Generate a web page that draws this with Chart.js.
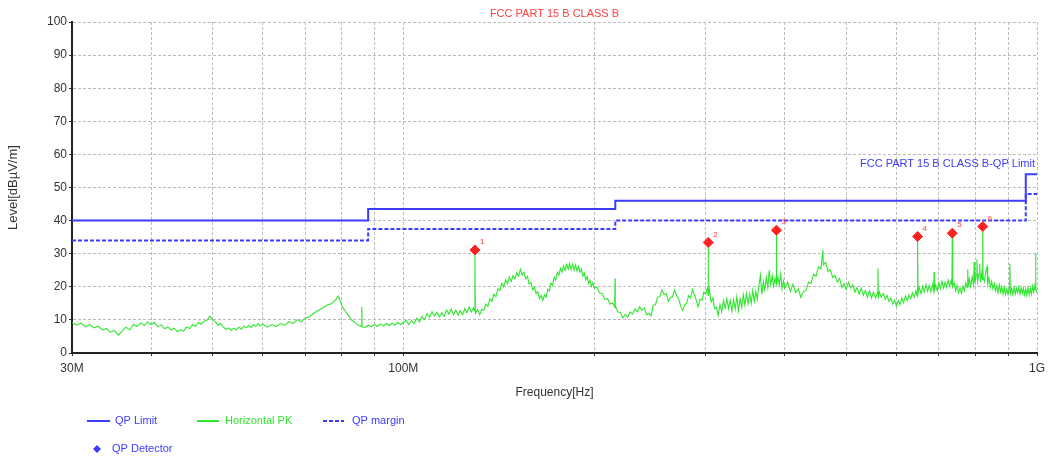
<!DOCTYPE html>
<html>
<head>
<meta charset="utf-8">
<script src="https://cdn.jsdelivr.net/npm/chart.js@4.4.1/dist/chart.umd.min.js"></script>
<style>
  html, body { margin: 0; padding: 0; background: #ffffff; }
  canvas { display: block; }
</style>
</head>
<body>
<canvas id="emi" width="1051" height="461"></canvas>
<script>
// ---- chart text ----
const chartTitle = 'FCC PART 15 B CLASS B';
const limitLabel = 'FCC PART 15 B CLASS B-QP Limit';
const xAxisTitle = 'Frequency[Hz]';
const yAxisTitle = 'Level[dBµV/m]';

// ---- frequency axis (MHz): grid positions and the few that carry labels ----
const gridFreqs = [30, 40, 50, 60, 70, 80, 90, 100, 200, 300, 400, 500, 600, 700, 800, 900, 1000];
const freqTickLabels = { 30: '30M', 100: '100M', 1000: '1G' };

// ---- QP limit and margin (step changes at these frequencies, MHz / dBµV/m) ----
const limitFreqs = [30, 88, 216, 960, 1000];
const qpLimit    = [40, 43.5, 46, 54, 54];
const qpMargin   = [34, 37.5, 40, 48, 48];

// ---- QP detector readings ----
const detectorIds    = ['1', '2', '3', '4', '5', '6'];
const detectorFreqs  = [129.7, 302.8, 388, 648, 735, 821];
const detectorLevels = [31.1, 33.4, 37.1, 35.2, 36.2, 38.2];

// ---- Horizontal PK sweep, 30 - 100 MHz ----
const sweepLowFreqs = [
  30, 30.5, 31, 31.5, 32, 32.5, 33, 33.5, 34, 34.5,
  35, 35.5, 36, 36.5, 37, 37.5, 38, 38.5, 39, 39.5,
  40, 40.5, 41, 41.5, 42, 42.5, 43, 43.5, 44, 44.5,
  45, 45.5, 46, 46.5, 47, 47.5, 48, 48.5, 49, 49.5,
  50, 50.5, 51, 51.5, 52, 52.5, 53, 53.5, 54, 54.5,
  55, 55.5, 56, 56.5, 57, 57.5, 58, 58.5, 59, 59.5,
  60, 61, 62, 63, 64, 65, 66, 67, 68, 69,
  70, 71, 72, 73, 74, 75, 76, 77, 78, 79,
  80, 81, 82, 83, 84, 85, 85.9, 86, 86.1, 87,
  88, 89, 90, 91, 92, 93, 94, 95, 96, 97,
  98, 99, 100
];
const sweepLowLevels = [
  9.2, 8.4, 9.0, 7.9, 8.6, 7.6, 8.1, 6.9, 7.4, 6.3,
  6.8, 5.4, 6.6, 7.8, 7.0, 8.6, 8.0, 9.1, 8.3, 9.4,
  8.6, 9.2, 7.9, 8.5, 7.3, 7.9, 6.9, 7.5, 6.4, 7.0,
  6.6, 7.9, 7.4, 8.6, 8.0, 9.2, 8.7, 9.6, 9.9, 11.2,
  10.0, 9.4, 8.4, 8.9, 7.8, 7.1, 7.6, 6.8, 7.5, 7.0,
  7.8, 7.2, 8.1, 7.6, 8.3, 7.7, 8.6, 8.0, 8.9, 8.2,
  8.7, 7.8, 8.6, 8.0, 8.9, 8.4, 9.5, 8.9, 10.1, 9.4,
  10.6, 10.9, 11.8, 12.6, 13.2, 13.9, 14.6, 14.9, 15.8, 17.2,
  14.3, 12.6, 11.2, 9.8, 9.1, 8.3, 8.0, 14.0, 7.9, 7.7,
  8.4, 7.9, 8.6, 8.0, 8.8, 8.2, 8.9, 8.3, 9.0, 8.4,
  9.2, 8.6, 9.3
];

// ---- Horizontal PK sweep, 100 - 200 MHz ----
const sweepMidFreqs = [
  101, 102, 103, 104, 105, 106, 107, 108, 109, 110,
  111, 112, 113, 114, 115, 116, 117, 118, 119, 120,
  121, 122, 123, 124, 125, 126, 127, 128, 129, 129.5,
  129.7, 129.9, 130, 131, 132, 133, 134, 135, 136, 137,
  138, 139, 140, 141, 142, 143, 144, 145, 146, 147,
  148, 149, 150, 151, 152, 153, 154, 155, 156, 157,
  158, 159, 160, 161, 162, 163, 164, 165, 166, 167,
  168, 169, 170, 171, 172, 173, 174, 175, 176, 177,
  178, 179, 180, 181, 182, 183, 184, 185, 186, 187,
  188, 189, 190, 191, 192, 193, 194, 195, 196, 197,
  198, 199, 200
];
const sweepMidLevels = [
  9.9, 8.6, 9.8, 8.9, 10.5, 9.4, 11.0, 10.1, 11.9, 10.8,
  12.5, 11.2, 12.3, 10.9, 12.2, 11.1, 13.0, 11.7, 13.3, 11.6,
  12.9, 11.4, 12.8, 11.6, 13.4, 12.1, 13.9, 12.4, 13.6, 12.8,
  31.1, 12.9, 12.0, 13.1, 11.6, 13.2, 12.9, 14.8, 14.1, 16.4,
  15.6, 17.8, 17.0, 19.4, 18.9, 21.0, 20.0, 22.1, 20.9, 22.9,
  21.6, 23.4, 22.4, 24.3, 23.2, 25.3, 23.6, 24.4, 22.4, 23.1,
  20.8, 21.3, 19.1, 19.9, 17.9, 18.6, 16.4, 17.4, 15.9, 17.6,
  16.8, 19.3, 18.8, 21.1, 20.4, 22.9, 22.0, 24.4, 23.5, 25.6,
  24.4, 26.3, 25.0, 26.8, 25.3, 27.0, 25.2, 26.9, 25.0, 26.6,
  24.8, 26.2, 24.4, 25.3, 23.2, 24.2, 22.1, 23.1, 21.0, 22.0,
  20.1, 21.2, 19.6
];

// ---- Horizontal PK sweep, 200 - 400 MHz ----
const sweepUpperFreqs = [
  202, 204, 206, 208, 210, 212, 214, 215.6, 215.8, 216,
  218, 220, 222, 224, 226, 228, 230, 232, 234, 236,
  238, 240, 242, 244, 246, 248, 250, 252, 254, 256,
  258, 260, 262, 264, 266, 268, 270, 272, 274, 276,
  278, 280, 282, 284, 286, 288, 290, 292, 294, 296,
  298, 300, 302, 302.6, 302.8, 303, 304, 306, 308, 310,
  312, 314, 316, 318, 320, 322, 324, 326, 328, 330,
  332, 334, 336, 338, 340, 342, 344, 346, 348, 350,
  352, 354, 356, 358, 360, 362, 364, 366, 368, 370,
  372, 374, 376, 378, 380, 382, 384, 386, 387.8, 388,
  388.2, 390, 392, 394, 396, 398, 400
];
const sweepUpperLevels = [
  19.9, 18.1, 18.0, 16.2, 16.4, 14.8, 15.1, 13.9, 22.5, 14.2,
  12.4, 12.3, 10.6, 11.7, 10.9, 12.4, 11.8, 13.3, 12.4, 14.0,
  12.9, 13.6, 11.6, 12.0, 11.2, 14.5, 14.6, 16.9, 17.0, 19.0,
  17.6, 17.9, 15.6, 16.8, 17.0, 19.1, 17.2, 16.4, 14.0, 12.8,
  14.6, 15.0, 17.4, 16.6, 19.2, 17.6, 15.8, 14.0, 16.3, 15.9,
  18.4, 17.8, 19.6, 17.8, 33.4, 17.2, 19.3, 15.4, 16.6, 13.4,
  13.8, 11.4, 14.6, 12.4, 15.8, 13.6, 16.4, 13.4, 15.9, 12.6,
  16.2, 13.3, 17.0, 12.8, 16.4, 13.8, 17.6, 14.4, 18.0, 14.9,
  17.9, 15.0, 19.0, 15.6, 18.6, 16.2, 20.4, 23.5, 17.8, 21.6,
  19.0, 22.8, 19.8, 25.0, 20.6, 23.4, 20.2, 22.6, 20.8, 37.1,
  20.6, 23.0, 20.6, 24.0, 19.4, 21.8, 19.6
];

// ---- Horizontal PK sweep, 400 MHz - 1 GHz ----
const sweepHighFreqs = [
  404, 408, 412, 416, 420, 424, 428, 432, 436, 440,
  444, 448, 452, 456, 459.3, 460, 464, 468, 472, 476,
  480, 484, 488, 492, 496, 500, 504, 508, 512, 516,
  520, 524, 528, 532, 536, 540, 544, 548, 552, 556,
  560, 561, 562, 564, 568, 572, 576, 580, 584, 588,
  592, 596, 600, 604, 608, 612, 616, 620, 624, 628,
  632, 636, 640, 644, 647, 648, 649, 652, 656, 660,
  664, 668, 672, 676, 680, 684, 687, 688, 689, 692,
  696, 700, 704, 708, 712, 716, 720, 724, 728, 732,
  734, 735, 736, 740, 744, 748, 752, 756, 760, 764,
  768, 772, 776, 777, 778, 779, 782, 786, 790, 794,
  796, 798, 802, 804, 806, 810, 812, 814, 818, 820,
  821, 822, 826, 830, 834, 836, 840, 844, 848, 852,
  856, 860, 864, 868, 872, 876, 880, 884, 888, 892,
  896, 900, 904, 906, 908, 912, 916, 920, 924, 928,
  932, 936, 940, 944, 948, 952, 956, 960, 964, 968,
  972, 976, 980, 984, 988, 992, 994, 995, 996, 1000
];
const sweepHighLevels = [
  21.4, 18.6, 20.8, 18.2, 19.4, 16.8, 18.6, 18.9, 21.4, 21.0,
  23.8, 23.2, 26.0, 25.4, 31.0, 26.6, 27.4, 24.6, 25.2, 22.8,
  23.4, 21.4, 22.6, 19.8, 21.0, 19.2, 21.4, 19.6, 20.6, 18.4,
  19.8, 17.8, 19.6, 17.4, 18.9, 16.8, 18.8, 16.6, 18.4, 16.6,
  18.0, 25.5, 17.0, 18.4, 16.8, 18.0, 16.2, 17.4, 15.6, 16.6,
  14.8, 15.9, 14.2, 15.8, 14.6, 16.6, 15.2, 17.2, 15.8, 17.6,
  16.4, 18.2, 16.8, 18.8, 17.2, 35.2, 18.0, 19.8, 18.0, 20.2,
  18.4, 20.6, 18.6, 20.4, 18.4, 20.8, 18.8, 24.5, 19.0, 20.6,
  18.8, 21.2, 19.4, 21.6, 19.6, 21.4, 19.8, 22.0, 20.2, 21.8,
  20.4, 36.2, 20.0, 21.2, 18.8, 20.4, 18.2, 19.6, 18.0, 20.2,
  18.8, 21.2, 19.8, 20.6, 25.2, 20.2, 22.4, 20.0, 23.0, 20.6,
  27.5, 21.2, 23.6, 28.3, 21.6, 24.0, 27.0, 21.4, 24.2, 22.2,
  38.2, 23.0, 21.6, 24.6, 26.0, 20.8, 22.6, 19.8, 21.6, 19.4,
  21.0, 18.8, 20.4, 18.2, 20.6, 18.4, 20.0, 17.8, 19.8, 17.6,
  19.4, 17.8, 19.6, 27.0, 18.0, 19.4, 17.6, 19.8, 17.8, 19.6,
  18.2, 20.0, 17.8, 19.8, 18.0, 19.6, 17.6, 19.4, 17.4, 19.8,
  17.6, 19.4, 17.8, 20.2, 18.4, 20.4, 19.2, 30.2, 19.6, 18.2
];

// ---- styling ----
const FONT = '"Liberation Sans", Arial, Helvetica, sans-serif';
const BLUE = '#3c3cff';
const GREEN = '#2fe62f';
const RED = '#ff2020';
const TEXT_RED = '#ff4040';
const AXIS_TEXT = '#333333';
const GRID = '#bcbcbc';

const toPoints = (xs, ys) => xs.map((x, i) => ({ x: x, y: ys[i] }));

const sweepPoints = [].concat(
  toPoints(sweepLowFreqs, sweepLowLevels),
  toPoints(sweepMidFreqs, sweepMidLevels),
  toPoints(sweepUpperFreqs, sweepUpperLevels),
  toPoints(sweepHighFreqs, sweepHighLevels)
);

// Captions, detector numbers and the legend are painted on top of the plot.
const annotations = {
  id: 'annotations',
  afterDatasetsDraw(chart) {
    const { ctx, chartArea, scales } = chart;
    ctx.save();

    ctx.font = '11px ' + FONT;
    ctx.textBaseline = 'middle';
    ctx.fillStyle = TEXT_RED;
    ctx.textAlign = 'center';
    ctx.fillText(chartTitle, (chartArea.left + chartArea.right) / 2, 14);

    ctx.fillStyle = BLUE;
    ctx.textAlign = 'right';
    ctx.fillText(limitLabel, chartArea.right - 2,
      scales.y.getPixelForValue(qpLimit[qpLimit.length - 1] + 3));

    // detector numbers
    const meta = chart.getDatasetMeta(0);
    ctx.font = '8px ' + FONT;
    ctx.fillStyle = TEXT_RED;
    ctx.textAlign = 'left';
    meta.data.forEach((pt, i) => {
      ctx.fillText(detectorIds[i], pt.x + 5, pt.y - 8);
    });

    // legend
    ctx.font = '11px ' + FONT;
    ctx.textAlign = 'left';
    const row1 = 421, row2 = 449;
    const sample = (x0, x1, y, color, dash) => {
      ctx.save();
      ctx.strokeStyle = color;
      ctx.lineWidth = 2;
      ctx.setLineDash(dash || []);
      ctx.beginPath();
      ctx.moveTo(x0, y);
      ctx.lineTo(x1, y);
      ctx.stroke();
      ctx.restore();
    };
    sample(87, 110, row1, BLUE);
    ctx.fillStyle = BLUE;
    ctx.fillText('QP Limit', 115, row1);
    sample(197, 219, row1, GREEN);
    ctx.fillStyle = GREEN;
    ctx.fillText('Horizontal PK', 225, row1);
    sample(323, 344, row1, BLUE, [4, 2]);
    ctx.fillStyle = BLUE;
    ctx.fillText('QP margin', 352, row1);

    ctx.fillStyle = BLUE;
    ctx.beginPath();
    ctx.moveTo(97, row2 - 4);
    ctx.lineTo(101, row2);
    ctx.lineTo(97, row2 + 4);
    ctx.lineTo(93, row2);
    ctx.closePath();
    ctx.fill();
    ctx.fillText('QP Detector', 112, row2);

    ctx.restore();
  }
};

new Chart(document.getElementById('emi'), {
  type: 'line',
  data: {
    datasets: [
      {
        label: 'QP Detector',
        data: toPoints(detectorFreqs, detectorLevels),
        showLine: false,
        pointStyle: 'rectRot',
        pointRadius: 5,
        pointBackgroundColor: RED,
        pointBorderColor: RED,
        pointBorderWidth: 1,
        order: 0
      },
      {
        label: 'QP Limit',
        data: toPoints(limitFreqs, qpLimit),
        stepped: 'before',
        borderColor: BLUE,
        borderWidth: 2,
        pointRadius: 0,
        fill: false,
        order: 1
      },
      {
        label: 'QP margin',
        data: toPoints(limitFreqs, qpMargin),
        stepped: 'before',
        borderColor: BLUE,
        borderWidth: 2,
        borderDash: [4, 2],
        pointRadius: 0,
        fill: false,
        order: 2
      },
      {
        label: 'Horizontal PK',
        data: sweepPoints,
        borderColor: GREEN,
        borderWidth: 1.1,
        pointRadius: 0,
        tension: 0,
        fill: false,
        order: 3
      }
    ]
  },
  options: {
    responsive: false,
    animation: false,
    events: [],
    layout: { padding: { left: 0, right: 14, top: 22, bottom: 60 } },
    plugins: {
      legend: { display: false },
      tooltip: { enabled: false },
      title: { display: false }
    },
    scales: {
      x: {
        type: 'logarithmic',
        min: 30,
        max: 1000,
        afterBuildTicks: (scale) => { scale.ticks = gridFreqs.map(v => ({ value: v })); },
        afterFit: (scale) => { scale.height = 48; },
        ticks: {
          autoSkip: false,
          maxRotation: 0,
          padding: 5,
          color: AXIS_TEXT,
          font: { family: FONT, size: 12 },
          callback: (value) => freqTickLabels[value] || ''
        },
        grid: { color: GRID, lineWidth: 1, tickColor: '#333333', tickLength: 3 },
        border: { display: true, color: '#222222', width: 2, dash: [3, 2] },
        title: {
          display: true,
          text: xAxisTitle,
          color: AXIS_TEXT,
          font: { family: FONT, size: 12 },
          padding: { top: 0, bottom: 1 }
        }
      },
      y: {
        min: 0,
        max: 100,
        afterFit: (scale) => { scale.width = 72; },
        ticks: {
          stepSize: 10,
          padding: 2,
          color: AXIS_TEXT,
          font: { family: FONT, size: 12 }
        },
        grid: { color: GRID, lineWidth: 1, tickColor: '#333333', tickLength: 3 },
        border: { display: true, color: '#222222', width: 2, dash: [3, 2] },
        title: {
          display: true,
          text: yAxisTitle,
          color: AXIS_TEXT,
          font: { family: FONT, size: 13 },
          padding: { top: 6, bottom: 0 }
        }
      }
    }
  },
  plugins: [annotations]
});
</script>
</body>
</html>
